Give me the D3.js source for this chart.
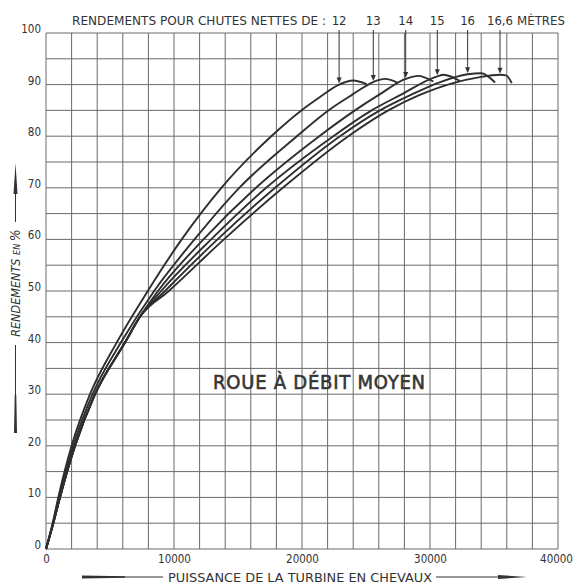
<!DOCTYPE html>
<html>
<head>
<meta charset="utf-8">
<script src="https://cdn.jsdelivr.net/npm/d3@7"></script>
<style>
  body { margin: 0; background: #fff; }
  text { font-family: 'DejaVu Sans Condensed', 'DejaVu Sans', sans-serif; fill: #333; }
</style>
</head>
<body>
<div id="app"></div>
<script>
// net heads (m) and the power where each arrow points
const heads = ['12', '13', '14', '15', '16', '16,6'];
const arrowPower = [22900, 25570, 28100, 30570, 32940, 35470];
const arrowEff   = [90.0, 90.5, 91.1, 91.6, 92.0, 91.9];

// [power (ch), efficiency (%)]
const curve12 = [[0,0],[520,5],[960,10],[2000,20],[3440,30],[5520,40],[7950,50],[10600,60],
  [13700,70],[17600,80],[19950,85],[21350,87.5],[22900,90.0],[24000,90.8],[25050,90.1]];
const curve13 = [[0,0],[540,5],[1020,10],[2130,20],[3640,30],[5850,40],[8450,50],[11600,60],
  [15100,70],[19600,80],[22060,85],[23900,88],[25570,90.5],[26480,91.1],[27520,90.3]];
const curve14 = [[0,0],[570,5],[1090,10],[2270,20],[3830,30],[6170,40],[7340,45],[8750,50],[12300,60],
  [16400,70],[21350,80],[24140,85],[26000,88],[28100,91.1],[29060,91.7],[30260,90.6]];
const curve15 = [[0,0],[570,5],[1090,10],[2270,20],[3830,30],[6170,40],[7340,45],[9000,50],[12900,60],
  [17200,70],[22450,80],[25440,85],[27700,88],[30570,91.6],[31040,91.9],[32340,90.7]];
const curve16 = [[0,0],[570,5],[1090,10],[2270,20],[3830,30],[6170,40],[7340,45],[9300,50],[13400,60],
  [17900,70],[22970,80],[26090,85],[28500,88],[30800,90.5],[32940,92.0],[34000,92.2],[35080,90.4]];
const curve166 = [[0,0],[570,5],[1090,10],[2270,20],[3830,30],[6170,40],[7340,45],[9600,50],[13900,60],
  [18500,70],[23620,80],[26740,85],[29200,88],[31800,90.3],[33800,91.4],[35470,91.9],[35950,91.8],[36380,90.3]];
const curves = [curve12, curve13, curve14, curve15, curve16, curve166];

const xLabels = [0, 10000, 20000, 30000, 40000];
const yLabels = [0, 10, 20, 30, 40, 50, 60, 70, 80, 90, 100];

const W = 573, H = 584;
const x = d3.scaleLinear().domain([0, 40000]).range([46, 558]);
const y = d3.scaleLinear().domain([0, 100]).range([549, 33]);
const ink = '#333';

const svg = d3.select('#app').append('svg')
  .attr('width', W)
  .attr('height', H);

// grid
const grid = svg.append('g').attr('stroke', '#6a6a6a').attr('stroke-width', 1);
grid.selectAll('line.v')
  .data(x.ticks(20))
  .enter().append('line')
  .attr('x1', d => x(d)).attr('x2', d => x(d))
  .attr('y1', y(0)).attr('y2', y(100));
grid.selectAll('line.h')
  .data(y.ticks(20))
  .enter().append('line')
  .attr('x1', x(0)).attr('x2', x(40000))
  .attr('y1', d => y(d)).attr('y2', d => y(d));

// tick labels
const xAxis = svg.append('g')
  .attr('transform', `translate(0,${y(0)})`)
  .call(d3.axisBottom(x).tickValues(xLabels).tickSize(0).tickPadding(6).tickFormat(d3.format('d')));
const yAxis = svg.append('g')
  .attr('transform', `translate(${x(0)},0)`)
  .call(d3.axisLeft(y).tickValues(yLabels).tickSize(0).tickPadding(5));
[xAxis, yAxis].forEach(a => {
  a.select('.domain').remove();
  a.selectAll('text')
    .style('font-family', "'DejaVu Sans Condensed', sans-serif")
    .style('font-size', '11.5px')
    .attr('fill', ink);
});
yAxis.selectAll('text').attr('dy', '-0.05em');
xAxis.selectAll('text').filter(d => d === 40000).attr('dx', -2);

// curves
const line = d3.line()
  .x(d => x(d[0]))
  .y(d => y(d[1]))
  .curve(d3.curveMonotoneX);
svg.append('g')
  .selectAll('path')
  .data(curves)
  .enter().append('path')
  .attr('d', line)
  .attr('fill', 'none')
  .attr('stroke', '#2e2e2e')
  .attr('stroke-width', 1.9);

// top title
svg.append('text')
  .attr('x', 72).attr('y', 25)
  .attr('textLength', 254).attr('lengthAdjust', 'spacingAndGlyphs')
  .style('font-size', '13px')
  .text('RENDEMENTS POUR CHUTES NETTES DE :');
svg.append('text')
  .attr('x', 517).attr('y', 25)
  .attr('textLength', 48).attr('lengthAdjust', 'spacingAndGlyphs')
  .style('font-size', '13px')
  .text('MÈTRES');

const arrows = svg.append('g');
heads.forEach((h, i) => {
  const ax = x(arrowPower[i]);
  const ay = y(arrowEff[i]);
  arrows.append('text')
    .attr('x', ax).attr('y', 25)
    .attr('text-anchor', 'middle')
    .style('font-size', '13px')
    .text(h);
  arrows.append('line')
    .attr('x1', ax).attr('x2', ax)
    .attr('y1', 30).attr('y2', ay - 4)
    .attr('stroke', ink).attr('stroke-width', 1);
  arrows.append('path')
    .attr('d', `M${ax - 2.5},${ay - 7}L${ax + 2.5},${ay - 7}L${ax},${ay - 1}Z`)
    .attr('fill', ink);
});

// x axis title with arrow
svg.append('text')
  .attr('x', 300).attr('y', 582)
  .attr('text-anchor', 'middle')
  .attr('textLength', 264).attr('lengthAdjust', 'spacingAndGlyphs')
  .style('font-size', '13px')
  .text('PUISSANCE DE LA TURBINE EN CHEVAUX');
svg.append('path')
  .attr('d', 'M82,575.5L125,576.3L125,577.7L82,578.5Z')
  .attr('fill', ink);
svg.append('line')
  .attr('x1', 82).attr('x2', 163).attr('y1', 577).attr('y2', 577)
  .attr('stroke', ink).attr('stroke-width', 1);
svg.append('line')
  .attr('x1', 436).attr('x2', 510).attr('y1', 577).attr('y2', 577)
  .attr('stroke', ink).attr('stroke-width', 1);
svg.append('path')
  .attr('d', 'M498,575L527,577L498,579Z')
  .attr('fill', ink);

// y axis title with arrow
const yt = svg.append('text')
  .attr('transform', 'translate(20,283) rotate(-90)')
  .attr('text-anchor', 'middle')
  .style('font-size', '12.5px')
  .style('font-style', 'italic');
yt.append('tspan').text('RENDEMENTS ');
yt.append('tspan').style('font-size', '9px').text('EN ');
yt.append('tspan').style('font-size', '14px').text('%');
svg.append('line')
  .attr('x1', 15.5).attr('x2', 15.5).attr('y1', 222).attr('y2', 180)
  .attr('stroke', ink).attr('stroke-width', 1);
svg.append('path')
  .attr('d', 'M13.5,194L15.5,163L17.5,194Z')
  .attr('fill', ink);
svg.append('line')
  .attr('x1', 15.5).attr('x2', 15.5).attr('y1', 345).attr('y2', 433)
  .attr('stroke', ink).attr('stroke-width', 1);
svg.append('path')
  .attr('d', 'M14.7,395L16.3,395L17,433L14,433Z')
  .attr('fill', ink);

// label inside the plot
svg.append('text')
  .attr('x', 319).attr('y', 389)
  .attr('text-anchor', 'middle')
  .attr('textLength', 212).attr('lengthAdjust', 'spacing')
  .style('font-size', '20px')
  .attr('fill', '#3a3a3a')
  .attr('stroke', '#3a3a3a')
  .attr('stroke-width', 0.6)
  .text('ROUE À DÉBIT MOYEN');
</script>
</body>
</html>
